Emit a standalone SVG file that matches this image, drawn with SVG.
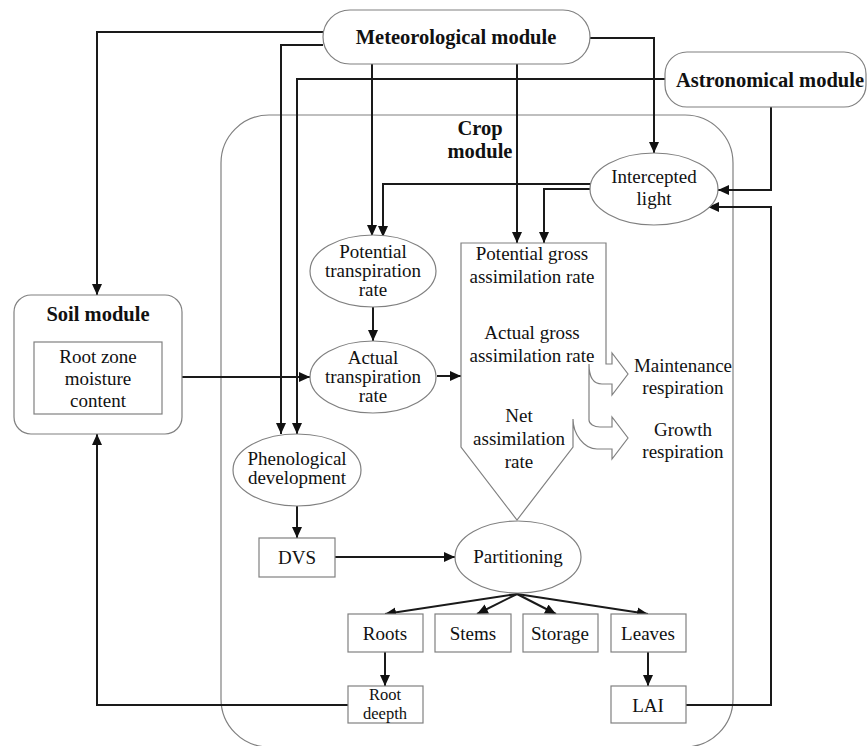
<svg xmlns="http://www.w3.org/2000/svg" width="867" height="746" viewBox="0 0 867 746">
<style>
  text { font-family: "Liberation Serif", "Times New Roman", serif; fill: #111; text-anchor: middle; }
  .t { font-size: 19px; }
  .s { font-size: 16.5px; }
  .b { font-size: 20.5px; font-weight: bold; }
  .node { fill: #fff; stroke: #808080; stroke-width: 1.2; }
  .mod { fill: none; stroke: #808080; stroke-width: 1.2; }
  .c { fill: none; stroke: #1a1a1a; stroke-width: 2; marker-end: url(#ah); }
</style>
<defs>
  <marker id="ah" markerUnits="userSpaceOnUse" markerWidth="12" markerHeight="11" refX="11" refY="5" orient="auto">
    <path d="M0,0 L11,5 L0,10 z" fill="#111"/>
  </marker>
</defs>
<rect width="867" height="746" fill="#fff"/>

<g id="crop-module">
  <rect class="mod" x="221" y="115" width="512" height="632" rx="48" ry="48"/>
  <text class="b" x="480" y="135">Crop</text>
  <text class="b" x="480" y="158">module</text>
</g>

<g id="connectors">
  <path class="c" d="M323,32 H97 V295"/>
  <path class="c" d="M323,45 H281 V434"/>
  <path class="c" d="M665,79 H297 V434"/>
  <path class="c" d="M372,64 V236"/>
  <path class="c" d="M517,64 V243"/>
  <path class="c" d="M590,38 H654 V153"/>
  <path class="c" d="M771,107 V190 H718"/>
  <path class="c" d="M591,184 H383 V237"/>
  <path class="c" d="M591,189 H544 V243"/>
  <path class="c" d="M373,307 V341"/>
  <path class="c" d="M162,377 H310"/>
  <path class="c" d="M437,376 H461"/>
  <path class="c" d="M297,506 V538"/>
  <path class="c" d="M335,557 H455"/>
  <path class="c" d="M517,594 L385,614"/>
  <path class="c" d="M517,594 L477,614"/>
  <path class="c" d="M517,594 L556,614"/>
  <path class="c" d="M517,594 L648,614"/>
  <path class="c" d="M385,652 V686"/>
  <path class="c" d="M648,652 V686"/>
  <path class="c" d="M348,705 H97 V434"/>
  <path class="c" d="M686,705 H771 V207 H708"/>
</g>

<g id="meteorological-module">
  <rect class="node" x="323" y="10" width="267" height="54" rx="27" ry="27"/>
  <text class="b" x="456" y="44">Meteorological module</text>
</g>

<g id="astronomical-module">
  <rect class="node" x="665" y="52" width="201" height="55" rx="22" ry="22"/>
  <text class="b" x="770" y="87">Astronomical module</text>
</g>

<g id="soil-module">
  <rect class="node" x="14" y="295" width="168" height="139" rx="17" ry="17"/>
  <text class="b" x="98" y="321">Soil module</text>
</g>

<g id="root-zone-moisture">
  <rect class="node" x="34" y="342" width="128" height="72"/>
  <text class="t" x="98" y="363">Root zone</text>
  <text class="t" x="98" y="385">moisture</text>
  <text class="t" x="98" y="407">content</text>
</g>

<g id="intercepted-light">
  <ellipse class="node" cx="654" cy="189" rx="64" ry="36"/>
  <text class="t" x="654" y="183">Intercepted</text>
  <text class="t" x="654" y="205">light</text>
</g>

<g id="potential-transpiration">
  <ellipse class="node" cx="373" cy="271" rx="63" ry="36"/>
  <text class="t" x="373" y="258">Potential</text>
  <text class="t" x="373" y="277">transpiration</text>
  <text class="t" x="373" y="296">rate</text>
</g>

<g id="actual-transpiration">
  <ellipse class="node" cx="373" cy="377" rx="63" ry="36"/>
  <text class="t" x="373" y="364">Actual</text>
  <text class="t" x="373" y="383">transpiration</text>
  <text class="t" x="373" y="402">rate</text>
</g>

<g id="phenological-development">
  <ellipse class="node" cx="297" cy="470" rx="64" ry="36"/>
  <text class="t" x="297" y="465">Phenological</text>
  <text class="t" x="297" y="484">development</text>
</g>

<g id="assimilation">
  <path class="node" d="M461,243 H606 V364 H612 V353 L628,374 L612,395 V384 H602 C594,384 589,378 589,364 V420 C589,424 594,427 600,427 H612 V417 L628,438 L612,459 V449 H597 C584,449 573,434 573,419 V447 L517,520 L461,447 Z"/>
  <text class="t" x="532" y="260">Potential gross</text>
  <text class="t" x="532" y="283">assimilation rate</text>
  <text class="t" x="532" y="339">Actual gross</text>
  <text class="t" x="532" y="362">assimilation rate</text>
  <text class="t" x="519" y="422">Net</text>
  <text class="t" x="519" y="445">assimilation</text>
  <text class="t" x="519" y="468">rate</text>
</g>

<g id="maintenance-respiration">
  <text class="t" x="683" y="372">Maintenance</text>
  <text class="t" x="683" y="394">respiration</text>
</g>

<g id="growth-respiration">
  <text class="t" x="683" y="436">Growth</text>
  <text class="t" x="683" y="458">respiration</text>
</g>

<g id="dvs">
  <rect class="node" x="259" y="538" width="76" height="39"/>
  <text class="t" x="297" y="564">DVS</text>
</g>

<g id="partitioning">
  <ellipse class="node" cx="518" cy="557" rx="63" ry="36"/>
  <text class="t" x="518" y="563">Partitioning</text>
</g>

<g id="roots">
  <rect class="node" x="348" y="614" width="75" height="38"/>
  <text class="t" x="385" y="640">Roots</text>
</g>
<g id="stems">
  <rect class="node" x="435" y="614" width="76" height="38"/>
  <text class="t" x="473" y="640">Stems</text>
</g>
<g id="storage">
  <rect class="node" x="523" y="614" width="75" height="38"/>
  <text class="t" x="560" y="640">Storage</text>
</g>
<g id="leaves">
  <rect class="node" x="611" y="614" width="75" height="38"/>
  <text class="t" x="648" y="640">Leaves</text>
</g>
<g id="root-deepth">
  <rect class="node" x="348" y="686" width="75" height="37"/>
  <text class="s" x="385" y="700">Root</text>
  <text class="s" x="385" y="719">deepth</text>
</g>
<g id="lai">
  <rect class="node" x="611" y="686" width="75" height="37"/>
  <text class="t" x="648" y="712">LAI</text>
</g>
</svg>
